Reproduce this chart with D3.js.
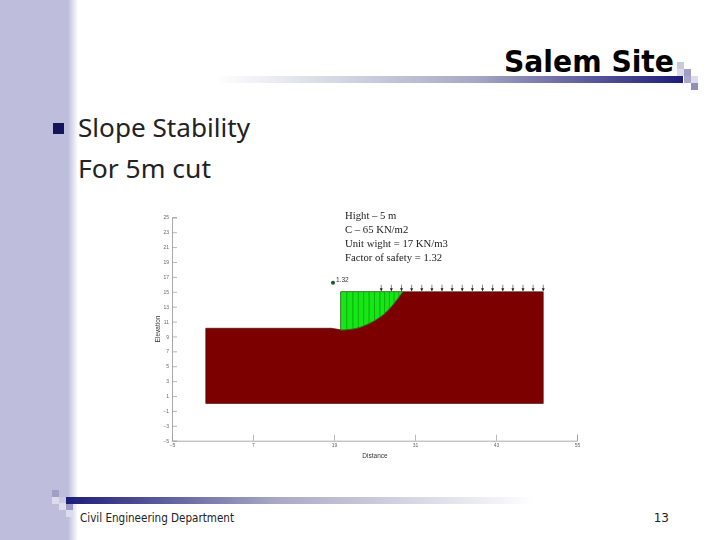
<!DOCTYPE html>
<html>
<head>
<meta charset="utf-8">
<script src="https://d3js.org/d3.v7.min.js"></script>
<style>
html, body { margin: 0; padding: 0; background: #fff; }
svg { display: block; }
</style>
</head>
<body>
<svg id="slide" width="720" height="540"></svg>
<script>
const title = "Salem Site";
const bulletLines = ["Slope Stability", "For 5m cut"];
const footerText = "Civil Engineering Department";
const pageNumber = "13";
const noteLines = ["Hight – 5 m", "C – 65 KN/m2", "Unit wight = 17 KN/m3", "Factor of safety = 1.32"];

const elevationTicks = [25, 23, 21, 19, 17, 15, 13, 11, 9, 7, 5, 3, 1, -1, -3, -5];
const distanceTicks = [-5, 7, 19, 31, 43, 55];

// ground outline
const groundX = [0, 18.6, 20, 20, 50, 50, 0];
const groundY = [10.1, 10.1, 9.9, 15, 15, 0, 0];

// slip surface from crest of the cut to where it meets the top
const slipX = [20, 22.4, 24.8, 26.8, 28.3, 29.2];
const slipY = [9.85, 10.1, 11.0, 12.3, 13.9, 15];

const sliceX = [20.9, 21.8, 22.6, 23.4, 24.2, 25.0, 25.8, 26.5, 27.2, 27.9, 28.6];
const loadX = [26, 27.5, 29, 30.5, 32, 33.5, 35, 36.5, 38, 39.5, 41, 42.5, 44, 45.5, 47, 48.5, 50];

const factorPoint = { x: 18.85, y: 16.2, label: "1.32" };

const svg = d3.select("#slide");
const defs = svg.append("defs");

const sideGrad = defs.append("linearGradient").attr("id", "sideGrad");
sideGrad.append("stop").attr("offset", "0%").attr("stop-color", "#bebedc");
sideGrad.append("stop").attr("offset", "100%").attr("stop-color", "#ffffff");

const topGrad = defs.append("linearGradient").attr("id", "topGrad");
topGrad.append("stop").attr("offset", "0%").attr("stop-color", "#ffffff");
topGrad.append("stop").attr("offset", "55%").attr("stop-color", "#a9a9c6");
topGrad.append("stop").attr("offset", "100%").attr("stop-color", "#1c1c78");

const botGrad = defs.append("linearGradient").attr("id", "botGrad");
botGrad.append("stop").attr("offset", "0%").attr("stop-color", "#1c1c78");
botGrad.append("stop").attr("offset", "45%").attr("stop-color", "#a9a9c6");
botGrad.append("stop").attr("offset", "100%").attr("stop-color", "#ffffff");

defs.append("filter").attr("id", "soft")
    .append("feGaussianBlur").attr("stdDeviation", 0.4);

// slide background
svg.append("rect").attr("x", 0).attr("y", 0).attr("width", 70).attr("height", 540).attr("fill", "#bebedc");
svg.append("rect").attr("x", 68).attr("y", 0).attr("width", 10).attr("height", 540).attr("fill", "url(#sideGrad)");

svg.append("rect").attr("x", 215).attr("y", 76).attr("width", 468).attr("height", 7).attr("fill", "url(#topGrad)");
svg.append("rect").attr("x", 66).attr("y", 497).attr("width", 470).attr("height", 7).attr("fill", "url(#botGrad)");

// decorative squares
const topSquares = [[677, 62, "#c9c9e0"], [684, 69, "#a0a0c4"], [677, 69, "#dcdcec"], [684, 76, "#a9a9cc"], [691, 76, "#dcdcec"], [691, 83, "#8f8fba"]];
const botSquares = [[52, 490, "#a0a0c4"], [52, 497, "#dcdcec"], [59, 497, "#c9c9e0"], [59, 503, "#dcdcec"], [66, 504, "#9c9cc6"], [66, 510, "#dcdcec"]];
svg.selectAll("rect.sq").data(topSquares.concat(botSquares)).enter().append("rect")
    .attr("class", "sq")
    .attr("x", d => d[0]).attr("y", d => d[1])
    .attr("width", 7).attr("height", 7)
    .attr("fill", d => d[2]);

// slide text
svg.append("text").text(title)
    .attr("x", 674).attr("y", 72).attr("text-anchor", "end")
    .attr("font-family", "DejaVu Sans").attr("font-weight", "bold").attr("font-size", 30)
    .attr("textLength", 170).attr("lengthAdjust", "spacingAndGlyphs").attr("fill", "#000");

svg.append("rect").attr("x", 53).attr("y", 123).attr("width", 11).attr("height", 11).attr("fill", "#14145a");

svg.selectAll("text.bullet").data(bulletLines).enter().append("text")
    .attr("class", "bullet")
    .text(d => d)
    .attr("x", 78).attr("y", (d, i) => 137 + i * 41)
    .attr("font-family", "Noto Sans").attr("font-size", 26)
    .attr("textLength", (d, i) => i == 0 ? 172 : 133).attr("lengthAdjust", "spacingAndGlyphs")
    .attr("fill", "#222");

svg.append("text").text(footerText)
    .attr("x", 80).attr("y", 522)
    .attr("font-family", "DejaVu Sans").attr("font-size", 12)
    .attr("textLength", 154).attr("lengthAdjust", "spacingAndGlyphs").attr("fill", "#222");

svg.append("text").text(pageNumber)
    .attr("x", 669).attr("y", 522).attr("text-anchor", "end")
    .attr("font-family", "DejaVu Sans").attr("font-size", 12).attr("fill", "#222");

// the chart
const x = d3.scaleLinear().domain([-5, 55]).range([172, 577]);
const y = d3.scaleLinear().domain([-5, 25]).range([440.7, 217.3]);

const chart = svg.append("g").attr("filter", "url(#soft)");

const yAxis = d3.axisLeft(y).tickValues(elevationTicks).tickSize(-5).tickPadding(3);
const xAxis = d3.axisBottom(x).tickValues(distanceTicks).tickSize(-6).tickPadding(3);

const yG = chart.append("g").attr("transform", "translate(172,0)").call(yAxis);
const xG = chart.append("g").attr("transform", "translate(0,440.7)").call(xAxis);
[yG, xG].forEach(g => {
    g.selectAll("path").attr("stroke", "#aaa").attr("stroke-width", 1);
    g.selectAll("line").attr("stroke", "#999").attr("stroke-width", 0.7);
    g.selectAll("text").attr("font-family", "Liberation Sans").attr("font-size", 5).attr("fill", "#666");
});

chart.append("text").text("Elevation")
    .attr("transform", "translate(159.5,329) rotate(-90)").attr("text-anchor", "middle")
    .attr("font-family", "Liberation Sans").attr("font-size", 6.5).attr("fill", "#333");
chart.append("text").text("Distance")
    .attr("x", 375).attr("y", 458).attr("text-anchor", "middle")
    .attr("font-family", "Liberation Sans").attr("font-size", 6.5).attr("fill", "#333");

const line = d3.line().x(d => x(d[0])).y(d => y(d[1]));

// ground polygon, green slip mass sits on top
chart.append("path")
    .attr("d", line(d3.zip(groundX, groundY)) + "Z")
    .attr("fill", "#7d0000").attr("stroke", "#3c0000").attr("stroke-width", 0.6);

const arc = d3.line().x(d => x(d[0])).y(d => y(d[1])).curve(d3.curveCatmullRom);
const massPath = "M" + x(20) + "," + y(15) + "L" + x(29.2) + "," + y(15) + "L"
    + arc(d3.zip(slipX, slipY).reverse()).slice(1) + "Z";
chart.append("path").attr("d", massPath)
    .attr("fill", "#14e614").attr("stroke", "#0d8c0d").attr("stroke-width", 0.5);

// slice boundaries, clipped by the slip surface
const slipAt = d3.scaleLinear().domain(slipX).range(slipY);
chart.selectAll("line.slice").data(sliceX).enter().append("line")
    .attr("class", "slice")
    .attr("x1", d => x(d)).attr("x2", d => x(d))
    .attr("y1", y(15)).attr("y2", d => y(slipAt(d)))
    .attr("stroke", "#0b8a0b").attr("stroke-width", 0.6);

chart.append("path").attr("d", arc(d3.zip(slipX, slipY)))
    .attr("fill", "none").attr("stroke", "#4a5a10").attr("stroke-width", 0.8);

// distributed load arrows
const loads = chart.selectAll("g.load").data(loadX).enter().append("g")
    .attr("class", "load")
    .attr("transform", d => "translate(" + x(d) + "," + y(15) + ")");
loads.append("line").attr("y1", -7).attr("y2", -1).attr("stroke", "#555").attr("stroke-width", 0.7);
loads.append("path").attr("d", "M-1.5,-3.6L1.5,-3.6L0,-0.5Z").attr("fill", "#222");

// critical slip centre
chart.append("circle")
    .attr("cx", x(factorPoint.x)).attr("cy", y(factorPoint.y)).attr("r", 2)
    .attr("fill", "#0f5a28");
chart.append("text").text(factorPoint.label)
    .attr("x", x(factorPoint.x) + 3).attr("y", y(factorPoint.y) - 0.5)
    .attr("font-family", "Liberation Sans").attr("font-size", 6.5).attr("fill", "#333");

// note above the section
chart.selectAll("text.note").data(noteLines).enter().append("text")
    .attr("class", "note")
    .text(d => d)
    .attr("x", 345).attr("y", (d, i) => 219 + i * 14)
    .attr("font-family", "Liberation Serif").attr("font-size", 10.7).attr("fill", "#222");
</script>
</body>
</html>
